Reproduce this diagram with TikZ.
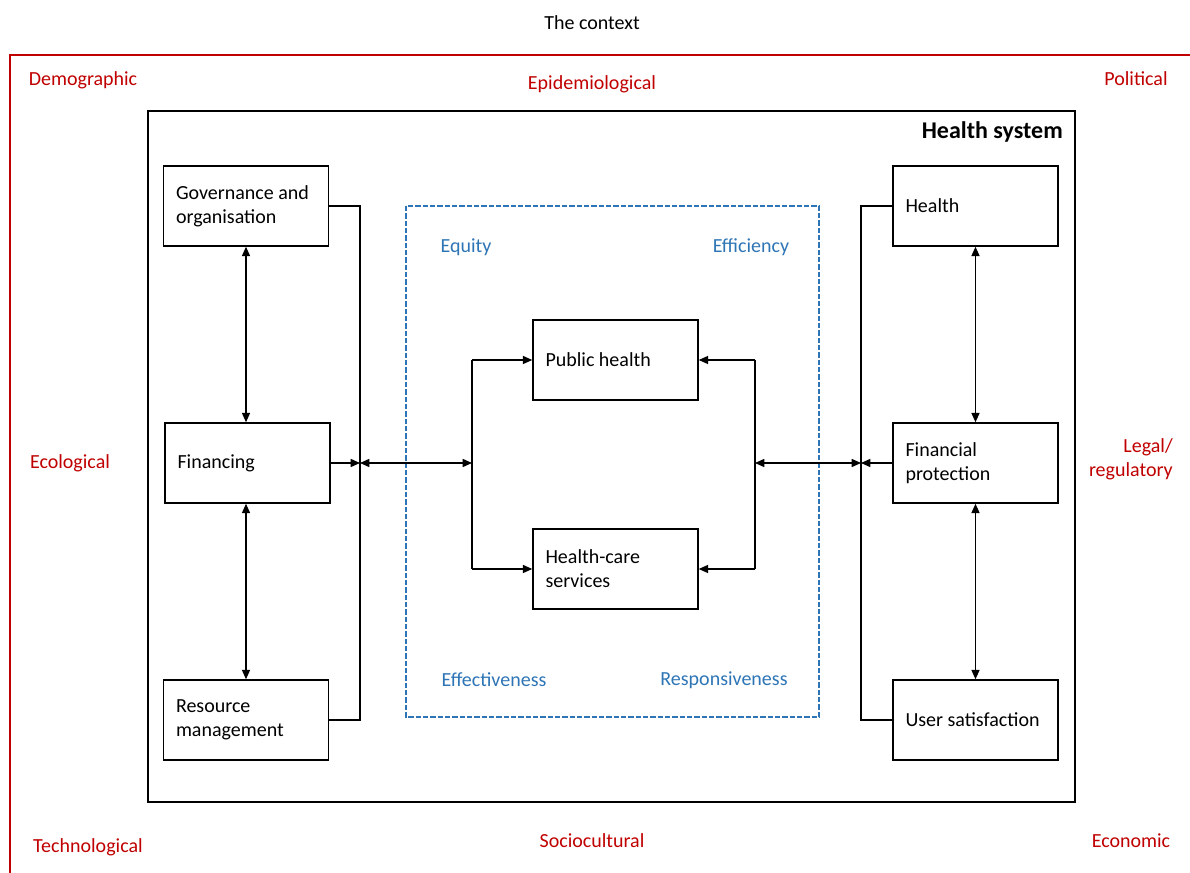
\documentclass[tikz,border=0pt]{standalone}
\usepackage{fontspec}
\setmainfont{Carlito}
\usetikzlibrary{arrows.meta}
\definecolor{ctxred}{RGB}{192,0,0}
\definecolor{dimblue}{RGB}{46,117,182}
\begin{document}
\begin{tikzpicture}[x=0.75pt,y=-0.75pt,
  txt/.style={font=\fontsize{15}{18}\selectfont, inner sep=0pt},
  ctx/.style={txt, text=ctxred},
  dim/.style={txt, text=dimblue},
  box/.style={draw, line width=1.1pt, minimum width=123.75pt, minimum height=60pt,
     text width=105pt, align=flush left, inner sep=9pt, font=\fontsize{15}{18}\selectfont},
  conn/.style={line width=1.1pt},
  arr/.style={conn, -{Triangle[length=7pt,width=6pt]}},
  darr/.style={conn, {Triangle[length=7pt,width=6pt]}-{Triangle[length=7pt,width=6pt]}}
]
\useasboundingbox (0,0) rectangle (1190,873);
% context
\node[txt] (title) at (592,23) {The context};
\draw[ctxred, line width=1pt] (10,873) -- (10,55) -- (1190,55);
\node[ctx] (demo) at (83,80) {Demographic};
\node[ctx] (epi) at (592,84) {Epidemiological};
\node[ctx] (pol) at (1136,79) {Political};
\node[ctx] (eco) at (70,463) {Ecological};
\node[ctx, align=right, anchor=east] (legal) at (1173,459) {Legal/\\regulatory};
\node[ctx] (tech) at (88,847) {Technological};
\node[ctx] (soc) at (592,841) {Sociocultural};
\node[ctx] (econ) at (1131,841) {Economic};
% health system
\draw[line width=1.1pt] (148,111) rectangle (1075,802);
\node[inner sep=0pt, anchor=east, font=\fontsize{18}{21}\selectfont\bfseries] (hs) at (1063,132) {Health system};
% dashed
\draw[dimblue, line width=1pt, dash pattern=on 4pt off 1.5pt] (406,206) rectangle (819,717);
\node[dim] (equity) at (466,247) {Equity};
\node[dim] (eff) at (751,247) {Efficiency};
\node[dim] (effv) at (494,680) {Effectiveness};
\node[dim] (resp) at (724,680) {Responsiveness};
% boxes
\node[box] (gov) at (246,206) {Governance and\\organisation};
\node[box] (fin) at (247.5,463) {Financing};
\node[box] (res) at (246,720) {Resource\\management};
\node[box] (ph) at (615.5,360) {Public health};
\node[box] (hc) at (615.5,569) {Health-care\\services};
\node[box] (hl) at (975.5,206) {Health};
\node[box] (fp) at (975.5,463) {Financial\\protection};
\node[box] (us) at (975.5,720) {User satisfaction};
% coordinates
\coordinate (lx) at (360,0);
\coordinate (mlx) at (472,0);
\coordinate (mrx) at (755,0);
\coordinate (rx) at (861,0);
% left bracket
\draw[conn] (gov.east) -- (gov.east -| lx) -- (res.east -| lx) -- (res.east);
\draw[arr] (fin.east) -- (fin.east -| lx);
\draw[darr] (fin.east -| lx) -- (fin.east -| mlx);
\draw[conn] (ph.west -| mlx) -- (hc.west -| mlx);
\draw[arr] (ph.west -| mlx) -- (ph.west);
\draw[arr] (hc.west -| mlx) -- (hc.west);
% right side
\draw[conn] (ph.east -| mrx) -- (hc.east -| mrx);
\draw[arr] (ph.east -| mrx) -- (ph.east);
\draw[arr] (hc.east -| mrx) -- (hc.east);
\draw[darr] (fp.west -| mrx) -- (fp.west -| rx);
\draw[conn] (hl.west) -- (hl.west -| rx) -- (us.west -| rx) -- (us.west);
\draw[arr] (fp.west) -- (fp.west -| rx);
% vertical
\draw[darr] (gov.south) -- (gov.south |- fin.north);
\draw[darr] (fin.south -| res.north) -- (res.north);
\draw[darr] (hl.south) -- (fp.north);
\draw[darr] (fp.south) -- (us.north);
\end{tikzpicture}
\end{document}
